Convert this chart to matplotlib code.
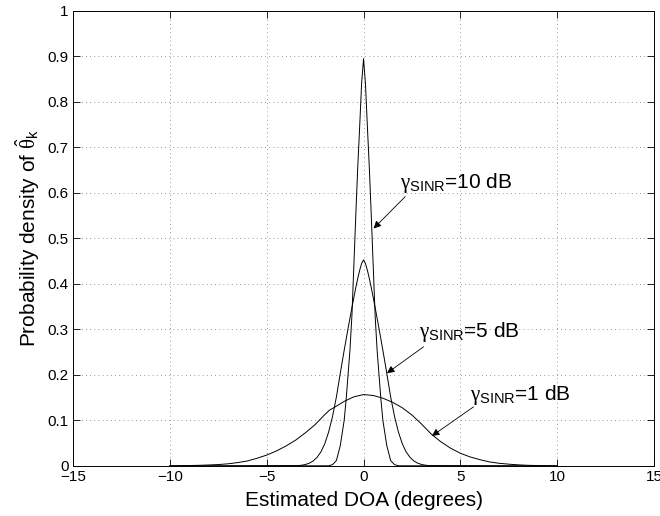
import matplotlib
matplotlib.use("Agg")
import matplotlib.pyplot as plt

plt.rcParams['font.family'] = ['Liberation Sans', 'DejaVu Sans']
plt.rcParams['mathtext.fontset'] = 'custom'
plt.rcParams['mathtext.rm'] = 'Liberation Sans'
plt.rcParams['mathtext.it'] = 'Liberation Serif'
plt.rcParams['mathtext.sf'] = 'Liberation Sans'

# ---- data ----
x_1db = [-10, -9.5, -9, -8.5, -8, -7.5, -7, -6.5, -6, -5.5, -5, -4.5, -4, -3.5, -3,
         -2.5, -2, -1.75, -1.5, -1, -0.5, 0, 0.5, 1, 1.5, 2, 2.5, 3, 3.5, 4, 4.5,
         5, 5.5, 6, 6.5, 7, 7.5, 8, 8.5, 9, 9.5, 10]
y_1db = [0.0003, 0.0006, 0.001, 0.0015, 0.0022, 0.0032, 0.0048, 0.0075, 0.011, 0.017,
         0.024, 0.033, 0.044, 0.057, 0.073, 0.091, 0.113, 0.123, 0.129, 0.142, 0.152,
         0.157, 0.155, 0.149, 0.140, 0.128, 0.112, 0.092, 0.070, 0.053, 0.039, 0.028,
         0.020, 0.014, 0.009, 0.006, 0.004, 0.0025, 0.0015, 0.001, 0.0005, 0.0002]

x_5db = [-10, -3.4, -3.2, -3.0, -2.8, -2.6, -2.4, -2.2, -2.0, -1.8, -1.6, -1.4, -1.2,
         -1.0, -0.8, -0.6, -0.5, -0.4, -0.3, -0.2, -0.1, 0, 0.1, 0.2, 0.3, 0.4, 0.5,
         0.6, 0.8, 1.0, 1.2, 1.4, 1.6, 1.8, 2.0, 2.2, 2.4, 2.6, 2.8, 3.0, 3.2, 3.4, 10]
y_5db = [0.0, 0.0008, 0.0017, 0.0033, 0.0062, 0.011, 0.019, 0.031, 0.049, 0.075,
         0.109, 0.152, 0.204, 0.254, 0.302, 0.348, 0.370, 0.392, 0.412, 0.430, 0.445,
         0.453, 0.445, 0.430, 0.412, 0.392, 0.370, 0.348, 0.302, 0.254, 0.204, 0.152,
         0.109, 0.075, 0.049, 0.031, 0.019, 0.011, 0.0062, 0.0033, 0.0017, 0.0008, 0.0]

x_10db = [-10, -1.8, -1.6, -1.4, -1.2, -1.0, -0.9, -0.8, -0.7, -0.6, -0.5, -0.4, -0.3,
          -0.2, -0.1, 0, 0.1, 0.2, 0.3, 0.4, 0.5, 0.6, 0.7, 0.8, 0.9, 1.0, 1.2, 1.4,
          1.6, 1.8, 10]
y_10db = [0.0, 0.0005, 0.003, 0.012, 0.045, 0.10, 0.145, 0.20, 0.255, 0.33, 0.44,
          0.55, 0.655, 0.745, 0.84, 0.895, 0.84, 0.745, 0.655, 0.55, 0.44, 0.33,
          0.255, 0.20, 0.145, 0.10, 0.045, 0.012, 0.003, 0.0005, 0.0]

x_ticks = [-15, -10, -5, 0, 5, 10, 15]
y_ticks = [0, 0.1, 0.2, 0.3, 0.4, 0.5, 0.6, 0.7, 0.8, 0.9, 1]
y_tick_labels = ['0', '0.1', '0.2', '0.3', '0.4', '0.5', '0.6', '0.7', '0.8', '0.9', '1']
x_tick_labels = ['\u221215', '\u221210', '\u22125', '0', '5', '10', '15']

labels = [r'$\gamma_{\mathrm{SINR}}$=10 dB', r'$\gamma_{\mathrm{SINR}}$=5 dB',
          r'$\gamma_{\mathrm{SINR}}$=1 dB']
label_text_pos = [(1.9, 0.611), (2.84, 0.284), (5.51, 0.145)]
label_arrow_start = [(2.15, 0.592), (3.1, 0.262), (5.68, 0.130)]
label_arrow_tip = [(0.52, 0.522), (1.21, 0.204), (3.53, 0.066)]

fig = plt.figure(figsize=(6.6, 5.16), dpi=100)
ax = fig.add_axes([0.1106, 0.0969, 0.8804, 0.8818])

for xs, ys in [(x_1db, y_1db), (x_5db, y_5db), (x_10db, y_10db)]:
    ax.plot(xs, ys, color='black', lw=0.7)

ax.set_xlim(-15, 15)
ax.set_ylim(0, 1)
ax.set_xticks(x_ticks)
ax.set_xticklabels(x_tick_labels)
ax.set_yticks(y_ticks)
ax.set_yticklabels(y_tick_labels)
ax.tick_params(direction='in', length=5, width=0.6, top=True, right=True,
               labelsize=11, pad=3)
ax.grid(True, color='#777777', linestyle=(0, (1, 4)), linewidth=0.6)
for s in ax.spines.values():
    s.set_linewidth(0.7)

ax.set_xlabel('Estimated DOA (degrees)', fontsize=15, labelpad=5)
ax.set_ylabel(r'Probability density of $\hat{\theta}_{\mathrm{k}}$', fontsize=15, labelpad=4)

for lab, tp, a0, a1 in zip(labels, label_text_pos, label_arrow_start, label_arrow_tip):
    ax.text(tp[0], tp[1], lab, fontsize=15, ha='left', va='baseline')
    ax.annotate('', xy=a1, xytext=a0,
                arrowprops=dict(arrowstyle='-|>', color='black', lw=0.6,
                                mutation_scale=11, shrinkA=0, shrinkB=0))

fig.savefig('out.png', dpi=100)
